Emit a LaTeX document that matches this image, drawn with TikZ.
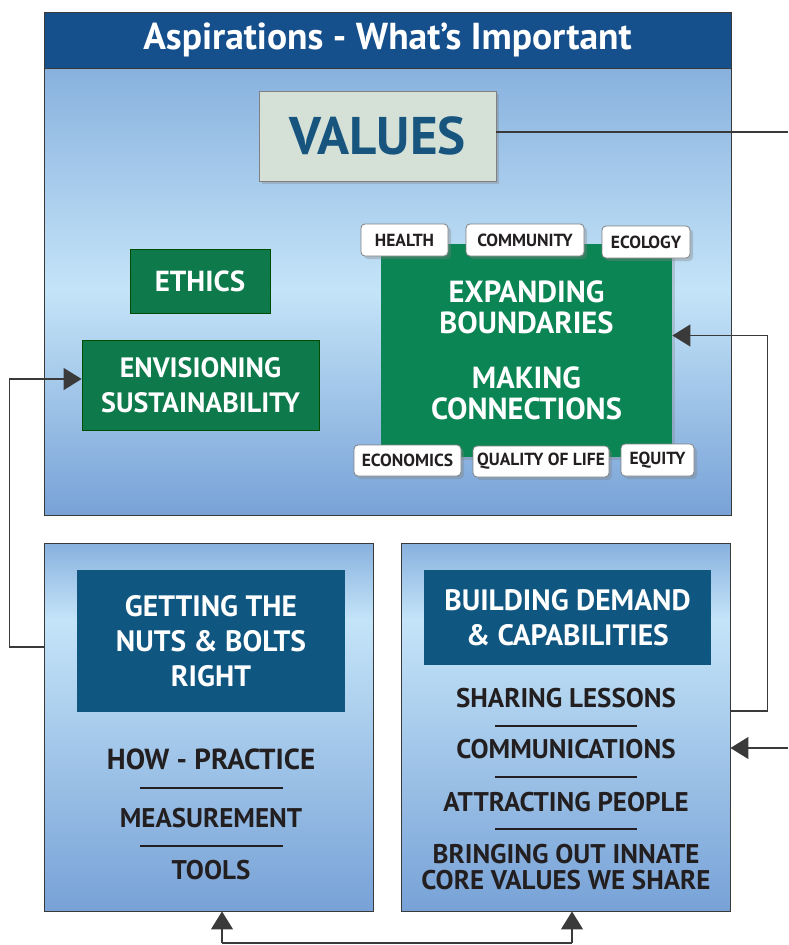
\documentclass[tikz,border=0pt]{standalone}
\usepackage{xcolor}
\usepackage{fontspec}
\setmainfont{PT Sans}
\usetikzlibrary{arrows.meta,calc,positioning,shadows}

\definecolor{bandblue}{HTML}{154F8C}
\definecolor{deepblue}{HTML}{0F5681}
\definecolor{skytop}{HTML}{88B1DE}
\definecolor{skylight}{HTML}{C4E4F8}
\definecolor{skybottom}{HTML}{78A2D7}
\definecolor{valfill}{HTML}{D5E1D7}
\definecolor{valtext}{HTML}{17557F}
\definecolor{leafgreen}{HTML}{0B8553}
\definecolor{ethgreen}{HTML}{0E7A4C}
\definecolor{inkdark}{HTML}{231F20}
\definecolor{wire}{HTML}{3A3A3A}

\begin{document}
\begin{tikzpicture}[x=1pt,y=-1pt, arrow/.style = {line width=1.3pt, draw=wire, -{Triangle[length=18pt,width=22pt]}}]
		\tikzset{panel/.style={draw=wire,line width=0.9pt,inner sep=0pt},
			greenbox/.style={draw=black!70!green,line width=0.8pt,fill=ethgreen,text=white,align=center,inner sep=0pt,font=\fontsize{28}{35}\selectfont\bfseries},
			tag/.style={draw=gray,fill=white,rounded corners=4pt,line width=0.8pt,inner sep=0pt,font=\fontsize{17.5}{20}\selectfont\bfseries,text=inkdark,drop shadow={opacity=0.35,shadow xshift=3pt,shadow yshift=-3pt}},
			navybox/.style={fill=deepblue,text=white,align=center,inner sep=0pt,font=\fontsize{29.5}{35}\selectfont\bfseries},
			item/.style={text=inkdark,align=center,inner sep=0pt,font=\fontsize{27}{26}\selectfont\bfseries},
			rule/.style={line width=1.2pt,draw=inkdark},
			wireline/.style={line width=1.3pt,draw=wire}}
		\useasboundingbox[fill=white] (0,0) rectangle (788,945);

		% aspirations panel
		\shade[top color=skytop, bottom color=skylight] (44,68) rectangle (731,290);
		\shade[top color=skylight, bottom color=skybottom] (44,290) rectangle (731,515);
		\node[panel, minimum width=687pt, minimum height=503pt] (asp) at (387.5,263.5) {};
		\node[fill=bandblue, draw=wire, line width=0.9pt, minimum width=687pt, minimum height=56pt, inner sep=0pt, text=white, font=\fontsize{37.5}{40}\selectfont\bfseries] (title) at (387.5,40) {Aspirations - What's Important};

		\node[fill=valfill, draw=gray, line width=0.8pt, minimum width=237pt, minimum height=90pt, inner sep=0pt, text=valtext, font=\fontsize{53}{56}\selectfont\bfseries, drop shadow={opacity=0.35,shadow xshift=3pt,shadow yshift=-3pt}] (values) at (377.5,136) {VALUES};

		\node[greenbox, minimum width=140pt, minimum height=64pt, font=\fontsize{29}{35}\selectfont\bfseries] (ethics) at (200,281) {ETHICS};
		\node[greenbox, minimum width=237pt, minimum height=90pt] (envis) at (200.5,385) {ENVISIONING\\SUSTAINABILITY};

		\node[greenbox, draw=none, fill=leafgreen, minimum width=291pt, minimum height=213pt, font=\fontsize{30.5}{31}\selectfont\bfseries, drop shadow={opacity=0.3,shadow xshift=3pt,shadow yshift=-3pt}] (expand) at (526.5,350) {EXPANDING\\BOUNDARIES\\[24pt]MAKING\\CONNECTIONS};

		\node[tag, minimum width=87pt, minimum height=32pt] (health) at (404.5,240) {HEALTH};
		\node[tag, minimum width=118pt, minimum height=32pt] (community) at (525,240) {COMMUNITY};
		\node[tag, minimum width=88pt, minimum height=32pt] (ecology) at (646,242) {ECOLOGY};
		\node[tag, minimum width=107pt, minimum height=31pt] (economics) at (407.5,460.5) {ECONOMICS};
		\node[tag, minimum width=136pt, minimum height=31pt] (quality) at (541,461.5) {QUALITY OF LIFE};
		\node[tag, minimum width=73pt, minimum height=32pt] (equity) at (657.5,460) {EQUITY};

		% nuts and bolts panel
		\shade[top color=skytop, bottom color=skylight] (44,543) rectangle (373,620);
		\shade[top color=skylight, bottom color=skybottom] (44,620) rectangle (373,911);
		\node[panel, minimum width=329pt, minimum height=368pt] (lbox) at (208.5,727) {};
		\node[navybox, minimum width=268pt, minimum height=142pt] (nuts) at (211,641) {GETTING THE\\NUTS \& BOLTS\\RIGHT};
		\node[item, font=\fontsize{29}{30}\selectfont\bfseries] (howp) at (211,759) {HOW - PRACTICE};
		\node[item] (meas) at (211,818) {MEASUREMENT};
		\node[item] (tools) at (211,870) {TOOLS};
		\draw[rule] (140,788) -- (283,788);
		\draw[rule] (140,846) -- (283,846);

		% demand panel
		\shade[top color=skytop, bottom color=skylight] (401,543) rectangle (730,620);
		\shade[top color=skylight, bottom color=skybottom] (401,620) rectangle (730,911);
		\node[panel, minimum width=329pt, minimum height=368pt] (rbox) at (565.5,727) {};
		\node[navybox, minimum width=287pt, minimum height=95pt] (demand) at (567.5,617.5) {BUILDING DEMAND\\\& CAPABILITIES};
		\node[item] (share) at (566,698) {SHARING LESSONS};
		\node[item] (comms) at (566,749) {COMMUNICATIONS};
		\node[item] (attract) at (566,802) {ATTRACTING PEOPLE};
		\node[item] (innate) at (566,867) {BRINGING OUT INNATE\\CORE VALUES WE SHARE};
		\draw[rule] (495,726) -- (637,726);
		\draw[rule] (495,777) -- (637,777);
		\draw[rule] (495,829) -- (637,829);

		% links
		\coordinate (valout) at (788,132);
		\coordinate (commin) at (788,748);
		\coordinate (botL) at (222,943);
		\coordinate (botR) at (572,943);

		\draw[wireline] (values.east |- valout) -- (valout);
		\draw[arrow] (commin) -- (commin -| rbox.east);
		\draw[arrow] ([yshift=16pt]rbox.east) -- ++(37,0) |- ([yshift=14.5pt]expand.east);
		\draw[arrow] ([yshift=80pt]lbox.west) -- ++(-34,0) |- ([yshift=6pt]envis.west);
		\draw[wireline] (botL) -- (botR);
		\draw[arrow] (botL) -- (botL |- lbox.south);
		\draw[arrow] (botR) -- (botR |- rbox.south);

	\end{tikzpicture}
\end{document}
